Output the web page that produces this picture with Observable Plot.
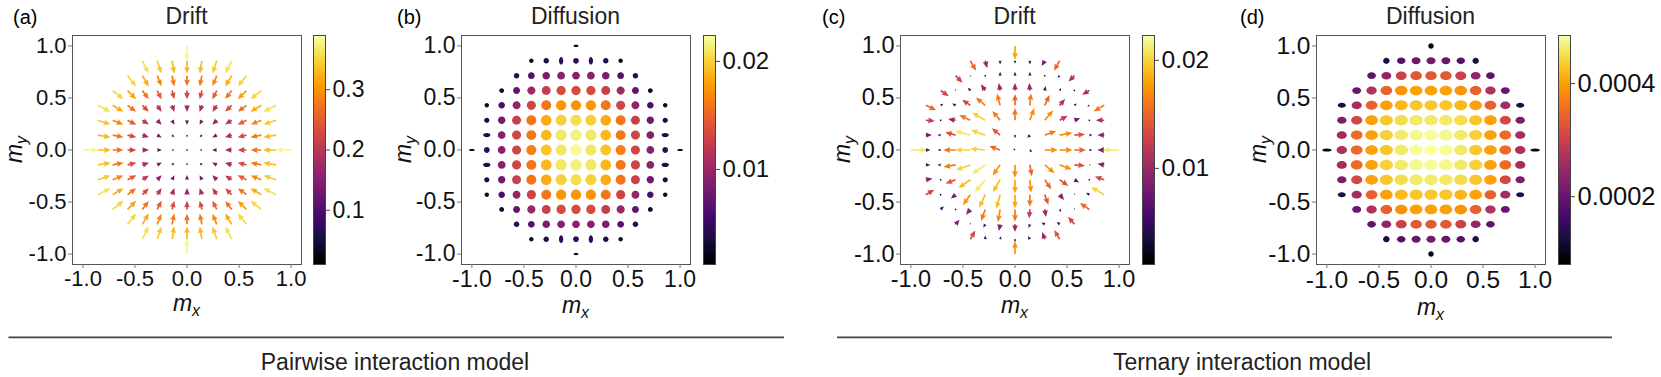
<!DOCTYPE html>
<html>
<head>
<meta charset="utf-8">
<script src="https://cdn.jsdelivr.net/npm/d3@7"></script>
<script src="https://cdn.jsdelivr.net/npm/@observablehq/plot@0.6"></script>
<style>
  html, body { margin: 0; padding: 0; background: #fff; }
  #fig { position: relative; width: 1661px; height: 377px; overflow: hidden; background: #fff; }
  .pane { position: absolute; top: 0; }
</style>
</head>
<body>
<div id="fig"></div>
<script>
const FONT = '"Liberation Sans", Arial, Helvetica, sans-serif';

// grid of magnetisation values (m = k/7)
const mLevels = [-1, -0.857, -0.714, -0.571, -0.429, -0.286, -0.143, 0, 0.143, 0.286, 0.429, 0.571, 0.714, 0.857, 1];
const axisTicks = [-1, -0.5, 0, 0.5, 1];

// (a) Pairwise drift magnitude, rows from m_y = 1 (top) to m_y = -1 (bottom); arrows point to the centre
const driftPairwise = [
  [0.38],
  [0.36,0.34,0.33,0.33,0.33,0.34,0.36],
  [0.35,0.32,0.29,0.28,0.27,0.28,0.29,0.32,0.35],
  [0.35,0.31,0.27,0.25,0.23,0.22,0.23,0.25,0.27,0.31,0.35],
  [0.36,0.32,0.27,0.23,0.20,0.18,0.17,0.18,0.20,0.23,0.27,0.32,0.36],
  [0.34,0.29,0.25,0.20,0.16,0.13,0.12,0.13,0.16,0.20,0.25,0.29,0.34],
  [0.33,0.28,0.23,0.18,0.13,0.08,0.06,0.08,0.13,0.18,0.23,0.28,0.33],
  [0.38,0.33,0.27,0.22,0.17,0.12,0.06,0.01,0.06,0.12,0.17,0.22,0.27,0.33,0.38],
  [0.33,0.28,0.23,0.18,0.13,0.08,0.06,0.08,0.13,0.18,0.23,0.28,0.33],
  [0.34,0.29,0.25,0.20,0.16,0.13,0.12,0.13,0.16,0.20,0.25,0.29,0.34],
  [0.36,0.32,0.27,0.23,0.20,0.18,0.17,0.18,0.20,0.23,0.27,0.32,0.36],
  [0.35,0.31,0.27,0.25,0.23,0.22,0.23,0.25,0.27,0.31,0.35],
  [0.35,0.32,0.29,0.28,0.27,0.28,0.29,0.32,0.35],
  [0.36,0.34,0.33,0.33,0.33,0.34,0.36],
  [0.38]
];

// (b) Pairwise diffusion (x 1e-3)
const diffPairwise = [
  [1.3],
  [2.5,4,4.5,4.5,4.5,4,2.5],
  [4,6.5,8.5,9,9,9,8.5,6.5,4],
  [3,7,10,12.5,13.5,13.5,13.5,12.5,10,7,3],
  [2.5,6,9.5,13,16,17.5,17.5,17.5,16,13,9.5,6,2.5],
  [3.5,8,12.5,16,18.5,20,20.5,20,18.5,16,12.5,8,3.5],
  [4,9,13,16,19,21,21.5,21,19,16,13,9,4],
  [1.5,4.5,9,13,16.5,19.5,21,22,21,19.5,16.5,13,9,4.5,1.5],
  [4,9,13,16,19,21,21.5,21,19,16,13,9,4],
  [3.5,8,12.5,16,18.5,20,20.5,20,18.5,16,12.5,8,3.5],
  [2.5,6,9.5,13,16,17.5,17.5,17.5,16,13,9.5,6,2.5],
  [3,7,10,12.5,13.5,13.5,13.5,12.5,10,7,3],
  [4,6.5,8.5,9,9,9,8.5,6.5,4],
  [2.5,4,4.5,4.5,4.5,4,2.5],
  [1.3]
];
// ellipse aspect (width / height) where it differs from a circle
const diffAspectPairwise = [
  [-1,0,2.6],[1,0,2.6],[0,1,2.2],[0,-1,2.2],
  [-0.857,0.143,1.8],[0.857,0.143,1.8],[-0.857,-0.143,1.8],[0.857,-0.143,1.8],
  [-0.143,0.857,0.55],[0.143,0.857,0.55],[-0.143,-0.857,0.55],[0.143,-0.857,0.55]
];

// (c) Ternary drift magnitude (x 1e-3) and direction (degrees clockwise from up)
const driftTernaryMag = [
  [18],
  [15,10,5,4,5,8,15],
  [13,2,1,5,5,5,1,4,11],
  [13,2,5,10,10,10,10,6,4,1,11],
  [15,4,5,13,16,16,15,16,15,11,4,3,16],
  [12,1,10,16,20,16,16,17,17,12,8,1,11],
  [8,4,14,21,20,14,4,5,16,17,14,4,9],
  [21,6,4,16,20,20,15,3,4,17,17,15,4,9,21],
  [6,4,16,20,21,17,17,15,17,17,14,2,9],
  [9,1,14,19,21,19,18,17,15,14,7,1,13],
  [13,1,8,17,19,19,18,16,14,9,2,5,20],
  [6,1,9,16,17,16,12,10,4,2,15],
  [8,2,5,9,10,5,5,5,13],
  [13,5,4,4,5,10,14],
  [17]
];
const driftTernaryAngle = [
  [180],
  [150,165,180,180,180,210,210],
  [135,135,0,0,0,0,0,225,225],
  [125,0,320,325,350,0,355,10,30,0,240],
  [115,60,300,305,310,345,0,5,25,40,50,240,240],
  [95,0,280,295,300,320,0,20,40,60,70,0,270],
  [90,270,285,285,290,310,180,220,70,80,85,90,270],
  [90,90,270,270,270,275,290,315,135,90,90,90,90,270,270],
  [90,270,260,250,235,215,180,170,130,110,95,90,280],
  [80,0,250,235,220,210,180,175,145,125,120,0,290],
  [60,0,230,215,205,195,180,180,160,140,0,300,300],
  [45,0,220,200,190,180,185,170,150,0,305],
  [40,0,210,190,180,200,300,310,320],
  [30,0,20,180,330,340,330],
  [0]
];

// (d) Ternary diffusion (x 1e-4)
const diffTernary = [
  [1.0],
  [1.3,1.8,2.0,2.1,2.0,1.8,1.3],
  [1.9,2.4,3.0,3.3,3.3,3.3,3.0,2.4,1.9],
  [2.0,2.7,3.4,3.9,4.0,4.0,4.0,3.9,3.4,2.7,2.0],
  [1.3,2.6,3.4,4.0,4.2,4.3,4.3,4.3,4.2,4.0,3.4,2.6,1.3],
  [2.2,3.1,4.0,4.3,4.5,4.6,4.6,4.6,4.5,4.3,4.0,3.1,2.2],
  [2.6,3.5,4.0,4.4,4.6,4.75,4.8,4.75,4.6,4.4,4.0,3.5,2.6],
  [1.0,2.7,3.5,4.0,4.3,4.6,4.8,4.85,4.8,4.6,4.3,4.0,3.5,2.7,1.0],
  [2.6,3.5,4.0,4.4,4.6,4.75,4.8,4.75,4.6,4.4,4.0,3.5,2.6],
  [2.2,3.1,4.0,4.3,4.5,4.6,4.6,4.6,4.5,4.3,4.0,3.1,2.2],
  [1.3,2.6,3.4,4.0,4.2,4.3,4.3,4.3,4.2,4.0,3.4,2.6,1.3],
  [2.0,2.7,3.4,3.9,4.0,4.0,4.0,3.9,3.4,2.7,2.0],
  [1.9,2.4,3.0,3.3,3.3,3.3,3.0,2.4,1.9],
  [1.3,1.8,2.0,2.1,2.0,1.8,1.3],
  [1.0]
];
const diffAspectTernaryDefault = 1.3;
const diffAspectTernary = [
  [-1,0,3],[1,0,3],[0,1,1],[0,-1,1],
  [-0.857,0.429,1.6],[0.857,0.429,1.6],[-0.857,-0.429,1.6],[0.857,-0.429,1.6],
  [-0.429,0.857,1.05],[0.429,0.857,1.05],[-0.429,-0.857,1.05],[0.429,-0.857,1.05]
];

const colorDomains = {a: [0.01, 0.39], b: [0.0012, 0.0224], c: [0.0011, 0.0223], d: [0.00008, 0.000485]};
const colorTicks = {a: [0.1, 0.2, 0.3], b: [0.01, 0.02], c: [0.01, 0.02], d: [0.0002, 0.0004]};
const colorDigits = {a: 1, b: 2, c: 2, d: 4};

const titles = {a: "Drift", b: "Diffusion", c: "Drift", d: "Diffusion"};
const captions = ["Pairwise interaction model", "Ternary interaction model"];

// ---------- helpers ----------
function gridPoints(rows) {
  const pts = [];
  rows.forEach((row, k) => {
    const y = mLevels[14 - k];
    const off = (15 - row.length) / 2;
    row.forEach((v, t) => pts.push({x: mLevels[off + t], y, v}));
  });
  return pts;
}
function lookupAspect(list, x, y, dflt) {
  const e = list.find(([ex, ey]) => Math.abs(ex - x) < 1e-6 && Math.abs(ey - y) < 1e-6);
  return e ? e[2] : dflt;
}

// matplotlib-like quiver arrow (tail at the anchor point, pointing "up" before rotation)
const SHAFT = 1.7;
let customShapeUsed = false;
const quiverArrow = {
  draw(ctx, l) {
    customShapeUsed = true;
    const w = SHAFT, hl = 4 * w, hal = 3.6 * w, hw = 3.4 * w;
    if (!(l >= w * 0.8)) {
      const rr = 0.9;
      for (let k = 0; k < 6; k++) {
        const t = Math.PI / 3 * k;
        if (k) ctx.lineTo(rr * Math.cos(t), rr * Math.sin(t)); else ctx.moveTo(rr * Math.cos(t), rr * Math.sin(t));
      }
      ctx.closePath();
      return;
    }
    const s = l < hl ? l / hl : 1;
    const L = l < hl ? hl : l;
    const pts = [[-w/2, 0], [-w/2, -(L - hal)], [-hw/2, -(L - hl)], [0, -L], [hw/2, -(L - hl)], [w/2, -(L - hal)], [w/2, 0]];
    pts.forEach(([px, py], k) => k ? ctx.lineTo(px * s, py * s) : ctx.moveTo(px * s, py * s));
    ctx.closePath();
  }
};

const ellipseCache = new Map();
function ellipseSymbol(aspect) {
  if (!ellipseCache.has(aspect)) {
    ellipseCache.set(aspect, {
      draw(ctx, size) {
        const r = Math.sqrt(size / Math.PI);
        const rx = r * Math.sqrt(aspect), ry = r / Math.sqrt(aspect), k = 0.5523;
        ctx.moveTo(rx, 0);
        ctx.bezierCurveTo(rx, k * ry, k * rx, ry, 0, ry);
        ctx.bezierCurveTo(-k * rx, ry, -rx, k * ry, -rx, 0);
        ctx.bezierCurveTo(-rx, -k * ry, -k * rx, -ry, 0, -ry);
        ctx.bezierCurveTo(k * rx, -ry, rx, -k * ry, rx, 0);
        ctx.closePath();
      }
    });
  }
  return ellipseCache.get(aspect);
}

// ---------- data tables ----------
const ptsA = gridPoints(driftPairwise).map(d => ({...d, a: Math.atan2(-d.x, -d.y) * 180 / Math.PI}));
const angC = gridPoints(driftTernaryAngle);
const ptsC = gridPoints(driftTernaryMag).map((d, k) => ({...d, v: d.v * 1e-3, a: angC[k].v}));
const ptsB = gridPoints(diffPairwise).map(d => ({...d, v: d.v * 1e-3, aspect: lookupAspect(diffAspectPairwise, d.x, d.y, 1)}));
const ptsD = gridPoints(diffTernary).map(d => ({...d, v: d.v * 1e-4, aspect: lookupAspect(diffAspectTernary, d.x, d.y, diffAspectTernaryDefault)}));

// ---------- layout ----------
const FRAME = 229, TOP = 35, ML = 80, MR = 30, MB = 50;
const panels = [
  {id: "a", frameL: 72,   cbL: 313,  fs: 22,   cbfs: 23,   letterX: 13,   mxY: 311},
  {id: "b", frameL: 461,  cbL: 703,  fs: 23,   cbfs: 24,   letterX: 397,  mxY: 313},
  {id: "c", frameL: 900,  cbL: 1142, fs: 23.5, cbfs: 24.5, letterX: 822,  mxY: 313},
  {id: "d", frameL: 1316, cbL: 1558, fs: 24.5, cbfs: 25.5, letterX: 1240, mxY: 315}
];

const fig = document.getElementById("fig");
const fmtTick = d => d.toFixed(1);

function dataMarks(id, useShape) {
  if (id === "a" || id === "c") {
    const pts = id === "a" ? ptsA : ptsC;
    const opts = {x: "x", y: "y", length: "v", rotate: "a", anchor: "start", fill: "v"};
    if (useShape) return [Plot.vector(pts, {...opts, shape: quiverArrow, stroke: "none"})];
    return [Plot.vector(pts, {...opts, stroke: "v", fill: "none", strokeWidth: 1.6, r: 2.5})];
  }
  const pts = id === "b" ? ptsB : ptsD;
  return [Plot.dot(pts, {x: "x", y: "y", r: "v", fill: "v", stroke: "none", symbol: d => ellipseSymbol(d.aspect)})];
}

function panelPlot(p, useShape) {
  const scales = {
    color: {type: "linear", scheme: "inferno", domain: colorDomains[p.id]}
  };
  if (p.id === "a") scales.length = {domain: [0, 0.38], range: [0, 15]};
  if (p.id === "c") scales.length = {domain: [0, 0.0223], range: [0, 17]};
  if (p.id === "b") scales.r = {type: "pow", exponent: 0.43, domain: [0, 0.022], range: [0, 5.7]};
  if (p.id === "d") scales.r = {type: "sqrt", domain: [0, 0.000485], range: [0, 6.1]};
  return Plot.plot({
    width: ML + FRAME + MR, height: TOP + FRAME + MB,
    marginLeft: ML, marginRight: MR, marginTop: TOP, marginBottom: MB,
    x: {domain: [-1.1, 1.1]},
    y: {domain: [-1.1, 1.1]},
    ...scales,
    style: {fontFamily: FONT, background: "transparent", overflow: "visible", maxWidth: "none"},
    marks: [
      ...dataMarks(p.id, useShape),
      Plot.frame({stroke: "#555", strokeWidth: 1}),
      Plot.axisX({ticks: axisTicks, tickFormat: fmtTick, tickSize: 4, tickPadding: 2, fontSize: p.fs, stroke: "#777", fill: "#111", label: null}),
      Plot.axisY({ticks: axisTicks, tickFormat: fmtTick, tickSize: 4, tickPadding: 2, fontSize: p.fs, stroke: "#777", fill: "#111", label: null})
    ]
  });
}

function colorbarPlot(p) {
  const [lo, hi] = colorDomains[p.id];
  const N = 230, step = (hi - lo) / N;
  const ramp = d3.range(N).map(k => lo + step * k);
  return Plot.plot({
    width: 1 + 12 + 95, height: TOP + FRAME + 20,
    marginLeft: 1, marginRight: 95, marginTop: TOP, marginBottom: 20,
    x: {domain: [0, 1], axis: null},
    y: {domain: [lo, hi]},
    color: {type: "linear", scheme: "inferno", domain: [lo, hi]},
    style: {fontFamily: FONT, background: "transparent", overflow: "visible", maxWidth: "none"},
    marks: [
      Plot.rect(ramp, {x1: () => 0, x2: () => 1, y1: d => d, y2: d => Math.min(hi, d + step * 1.5), fill: d => d + step / 2, shapeRendering: "crispEdges"}),
      Plot.frame({stroke: "#444", strokeWidth: 1}),
      Plot.axisY({anchor: "right", ticks: colorTicks[p.id], tickFormat: d => d.toFixed(colorDigits[p.id]), tickSize: 4, tickPadding: 3, fontSize: p.cbfs, stroke: "#444", fill: "#111", label: null})
    ]
  });
}

function place(node, left) {
  const div = document.createElement("div");
  div.className = "pane";
  div.style.left = left + "px";
  div.appendChild(node);
  fig.appendChild(div);
}

// detect custom vector shape support
customShapeUsed = false;
let testPlot = panelPlot(panels[0], true);
const shapeOK = customShapeUsed;

for (const p of panels) {
  const svg = (p.id === "a" && shapeOK) ? testPlot : panelPlot(p, shapeOK);
  place(svg, p.frameL - ML);
  place(colorbarPlot(p), p.cbL - 1);
}

// ---------- titles, labels, captions ----------
const ov = d3.create("svg")
  .attr("width", 1661).attr("height", 377)
  .style("position", "absolute").style("left", "0px").style("top", "0px")
  .style("font-family", FONT).style("pointer-events", "none");

for (const p of panels) {
  const cx = p.frameL + FRAME / 2;
  ov.append("text").attr("x", cx).attr("y", 24).attr("text-anchor", "middle")
    .attr("font-size", 23).attr("fill", "#222").text(titles[p.id]);
  ov.append("text").attr("x", p.letterX).attr("y", 24)
    .attr("font-size", 20).attr("fill", "#000").text(`(${p.id})`);
  const mx = ov.append("text").attr("x", cx).attr("y", p.mxY).attr("text-anchor", "middle").attr("fill", "#111");
  mx.append("tspan").attr("font-size", 23).attr("font-style", "italic").text("m");
  mx.append("tspan").attr("font-size", 16).attr("font-style", "italic").attr("dy", 5).text("x");
  const my = ov.append("text").attr("transform", `translate(${p.frameL - 50},${TOP + FRAME / 2}) rotate(-90)`)
    .attr("text-anchor", "middle").attr("fill", "#111");
  my.append("tspan").attr("font-size", 23).attr("font-style", "italic").text("m");
  my.append("tspan").attr("font-size", 16).attr("font-style", "italic").attr("dy", 5).text("y");
}

const lines = [[8.5, 784], [837, 1612]];
lines.forEach(([x1, x2]) => ov.append("line").attr("x1", x1).attr("x2", x2).attr("y1", 337.3).attr("y2", 337.3)
  .attr("stroke", "#444").attr("stroke-width", 1.7));
ov.append("text").attr("x", 395).attr("y", 369.5).attr("text-anchor", "middle").attr("font-size", 23).attr("fill", "#222").text(captions[0]);
ov.append("text").attr("x", 1242).attr("y", 369.5).attr("text-anchor", "middle").attr("font-size", 23).attr("fill", "#222").text(captions[1]);

fig.appendChild(ov.node());
</script>
</body>
</html>
